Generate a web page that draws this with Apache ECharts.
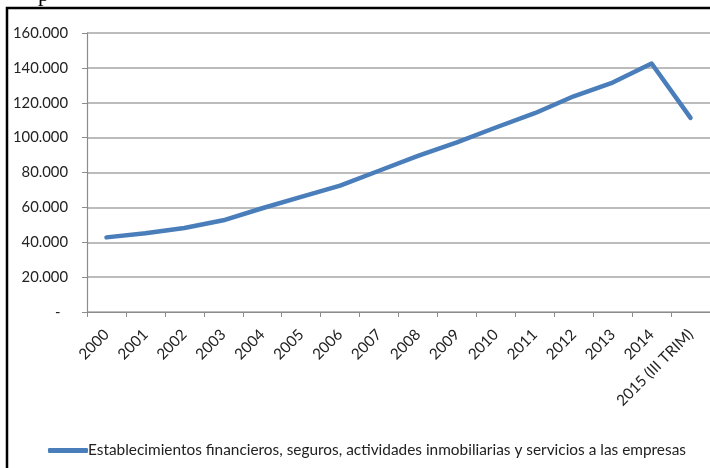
<!DOCTYPE html>
<html>
<head>
<meta charset="utf-8">
<script src="https://cdn.jsdelivr.net/npm/echarts@6/dist/echarts.min.js"></script>
<style>
  html, body { margin: 0; padding: 0; background: #fff; }
  #chart { width: 710px; height: 468px; }
</style>
</head>
<body>
<div id="chart"></div>
<script>
// Años (el último es el tercer trimestre de 2015)
const years = ['2000', '2001', '2002', '2003', '2004', '2005', '2006', '2007',
  '2008', '2009', '2010', '2011', '2012', '2013', '2014', '2015 (III TRIM)'];

// Establecimientos financieros, seguros, actividades inmobiliarias y servicios a las empresas
const seriesName = 'Establecimientos financieros, seguros, actividades inmobiliarias y servicios a las empresas';
const values = [42800, 45200, 48200, 52600, 59500, 66000, 72500, 81000,
  89500, 97300, 105800, 114000, 123700, 131600, 142500, 111300];

// Marcas del eje vertical
const yTicks = [0, 20000, 40000, 60000, 80000, 100000, 120000, 140000, 160000];

function formatMiles(v) {
  if (v === 0) return '-  ';
  return String(v).replace(/\B(?=(\d{3})+(?!\d))/g, '.');
}

const font = 'Lato, "Open Sans", sans-serif';
const chart = echarts.init(document.getElementById('chart'), null, { renderer: 'canvas' });

chart.setOption({
  animation: false,
  backgroundColor: '#ffffff',
  textStyle: { fontFamily: font },
  graphic: [
    {
      type: 'rect',
      shape: { x: 7, y: 8, width: 740, height: 500 },
      style: { fill: 'none', stroke: '#000000', lineWidth: 2.5 },
      z: 10
    },
    {
      type: 'text',
      left: 38,
      top: -16,
      style: { text: 'p', font: '22px "Liberation Serif", serif', fill: '#000' }
    }
  ],
  grid: { left: 87, right: -2, top: 33, bottom: 156, containLabel: false },
  xAxis: {
    type: 'category',
    data: years,
    boundaryGap: true,
    axisLine: { lineStyle: { color: '#8c8c8c', width: 1.2 } },
    axisTick: { show: true, length: 5, alignWithLabel: false, lineStyle: { color: '#8c8c8c' } },
    axisLabel: {
      interval: 0,
      rotate: 45,
      margin: 20,
      color: '#222',
      fontSize: 15.2,
      fontFamily: font
    },
    splitLine: { show: false }
  },
  yAxis: {
    type: 'value',
    min: yTicks[0],
    max: yTicks[yTicks.length - 1],
    interval: yTicks[1] - yTicks[0],
    axisLine: { show: true, lineStyle: { color: '#8c8c8c', width: 1.2 } },
    axisTick: { show: true, length: 5, lineStyle: { color: '#8c8c8c' } },
    axisLabel: {
      margin: 19,
      color: '#222',
      fontSize: 14.8,
      fontFamily: font,
      formatter: formatMiles
    },
    splitLine: { show: true, lineStyle: { color: '#a6a6a6', width: 1.5 } }
  },
  legend: {
    show: true,
    left: 43,
    top: 438,
    itemWidth: 40,
    itemHeight: 5,
    itemGap: 10,
    icon: 'roundRect',
    textStyle: { color: '#222', fontSize: 15.4, fontFamily: font, padding: [0, 0, 0, -5] },
    data: [seriesName]
  },
  series: [
    {
      name: seriesName,
      type: 'line',
      data: values,
      showSymbol: false,
      symbol: 'none',
      smooth: false,
      lineStyle: { color: '#4a7ebb', width: 4.5, cap: 'round', join: 'round' },
      itemStyle: { color: '#4a7ebb' }
    }
  ]
});
</script>
</body>
</html>
